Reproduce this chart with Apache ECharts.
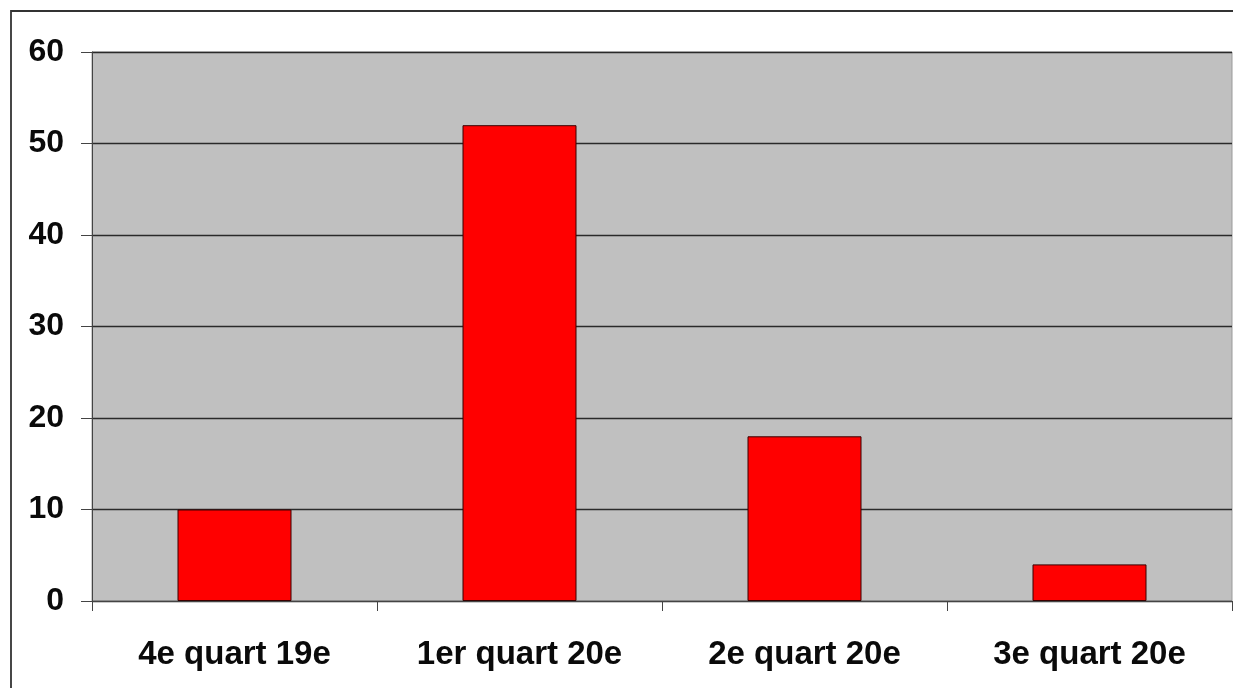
<!DOCTYPE html>
<html><head><meta charset="utf-8">
<script src="https://cdn.jsdelivr.net/npm/echarts@6/dist/echarts.min.js"></script>
<style>html,body{margin:0;padding:0;background:#fff}#c{width:1233px;height:688px}</style>
</head><body><div id="c"></div>
<script>
const categories = ['4e quart 19e', '1er quart 20e', '2e quart 20e', '3e quart 20e'];
const values = [10, 52, 18, 4];
const yTicks = [0, 10, 20, 30, 40, 50, 60];

const chart = echarts.init(document.getElementById('c'));
chart.setOption({
  animation: false,
  backgroundColor: '#ffffff',
  graphic: [{
    type: 'rect', z: 100, silent: true,
    shape: { x: 11, y: 11, width: 1260, height: 720 },
    style: { fill: 'none', stroke: '#333', lineWidth: 1.8 }
  }],
  grid: { left: 92, right: 1, top: 52, bottom: 87, show: true, backgroundColor: '#c0c0c0', borderColor: '#9a9a9a', borderWidth: 1 },
  xAxis: {
    type: 'category', data: categories,
    axisLine: { lineStyle: { color: '#444', width: 1 } },
    axisTick: { show: true, length: 10, lineStyle: { color: '#444' } },
    axisLabel: { margin: 37, color: '#0a0a0a', fontFamily: 'Liberation Sans, Arial, sans-serif', fontWeight: 'bold', fontSize: 33 }
  },
  yAxis: {
    type: 'value', min: 0, max: 60, interval: 10,
    axisLine: { show: true, lineStyle: { color: '#444', width: 1 } },
    axisTick: { show: true, length: 11, lineStyle: { color: '#444' } },
    splitLine: { lineStyle: { color: '#2a2a2a', width: 1.3 } },
    axisLabel: { margin: 28, color: '#0a0a0a', fontFamily: 'Liberation Sans, Arial, sans-serif', fontWeight: 'bold', fontSize: 32, padding: [6, 0, 0, 0],
      formatter: v => yTicks.includes(v) ? String(v) : '' }
  },
  series: [{
    type: 'bar', data: values, barWidth: '40%',
    itemStyle: { color: '#ff0000', borderColor: '#3a0000', borderWidth: 1 }
  }]
});
</script></body></html>
